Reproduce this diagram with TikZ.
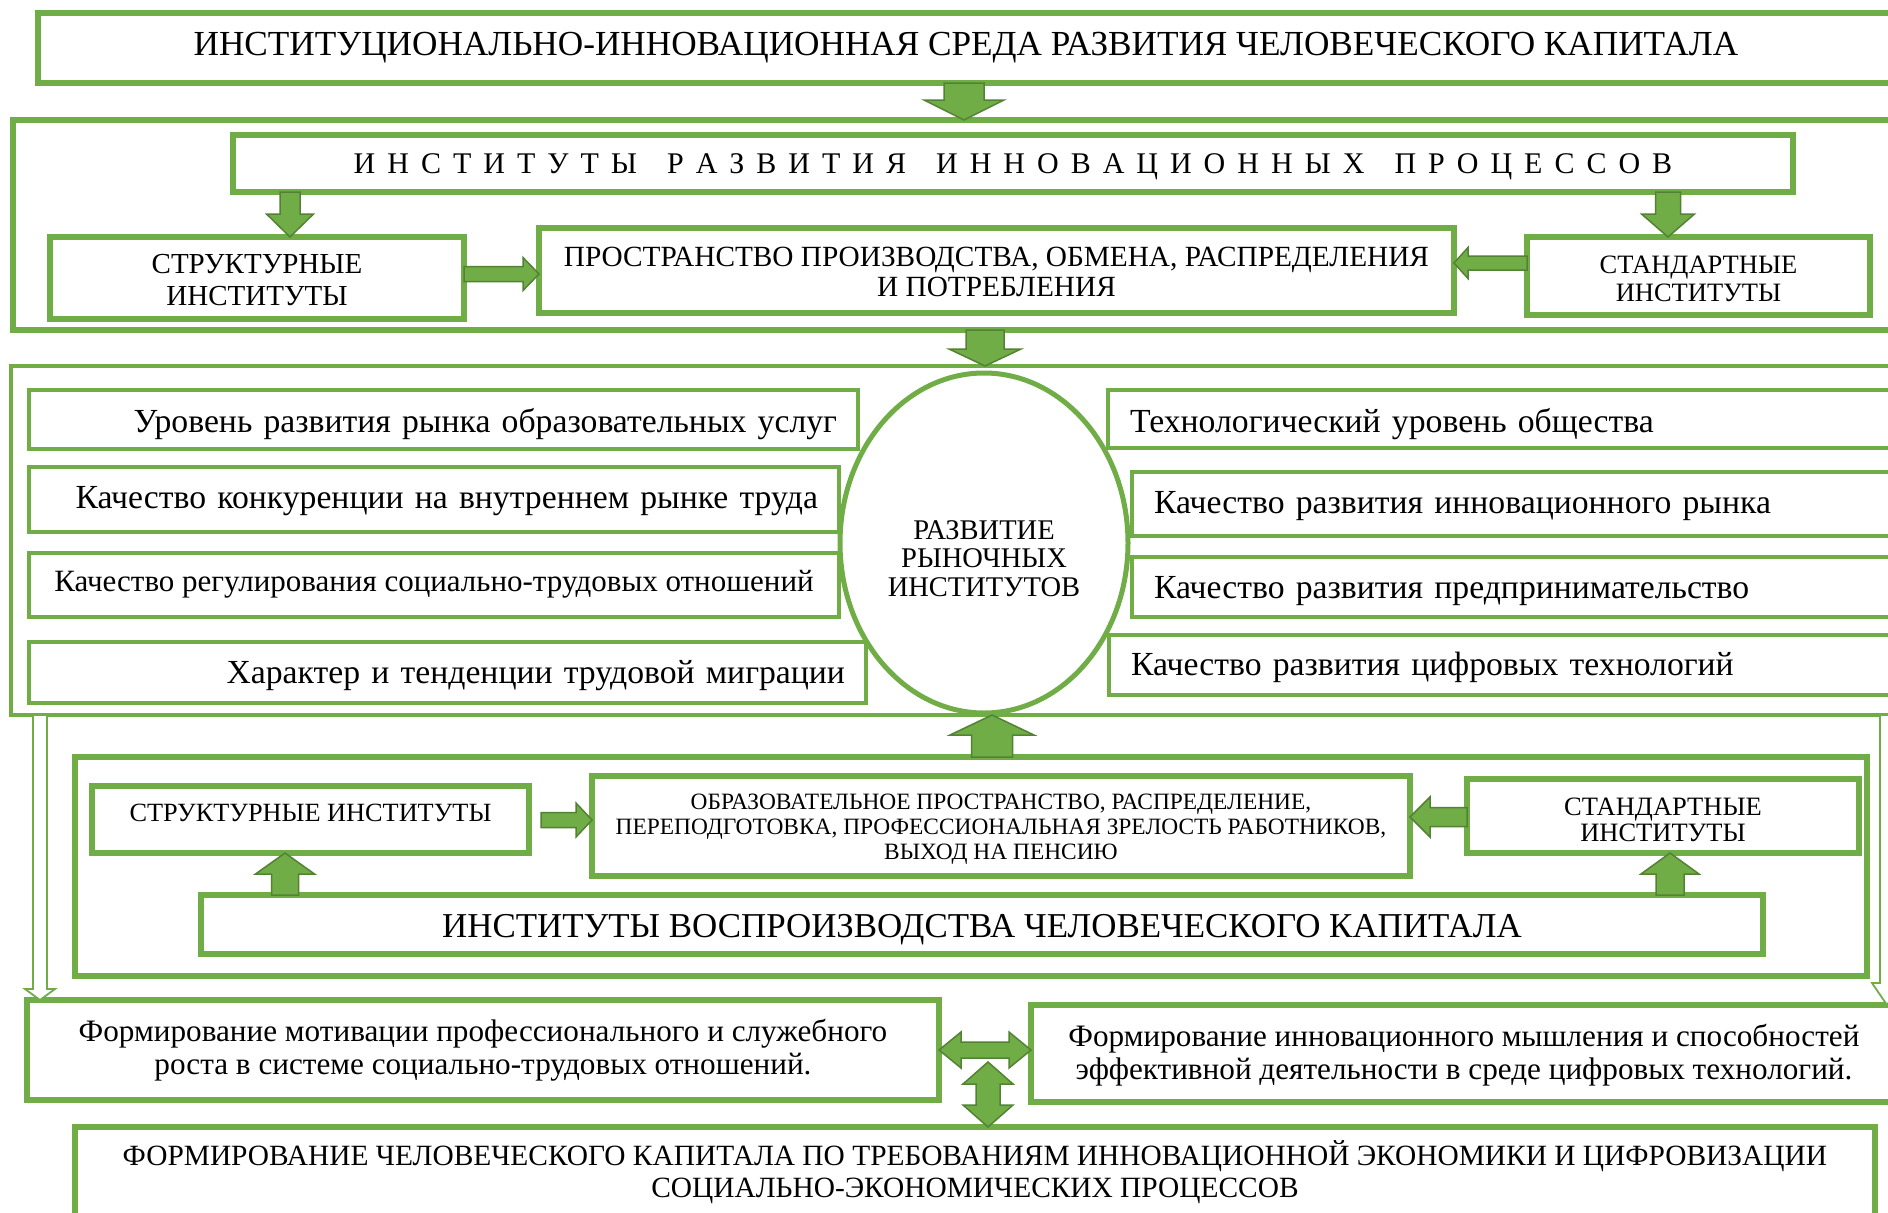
\documentclass[tikz,border=0pt]{standalone}
\usepackage{fontspec}
\setmainfont{Liberation Serif}
\usetikzlibrary{calc,shapes.geometric}
\definecolor{boxgreen}{HTML}{70AD47}
\definecolor{arrowedge}{HTML}{548235}
\newcommand\fsz[2]{\fontsize{#1pt}{#2pt}\selectfont}
% multi-line text; #1 = twice the downward shift of the text inside its node
\newcommand\mlt[2]{\raisebox{0pt}[\dimexpr\height+#1\relax][\depth]{\begin{tabular}{@{}c@{}}#2\end{tabular}}}
% block arrow: [style] {from} {to} {shaft half} {head half} {head length}
\newcommand\blockarrow[6][]{%
  \coordinate (bas) at (#2);
  \coordinate (bae) at (#3);
  \coordinate (bac) at ($(bae)!#6pt!(bas)$);
  \draw[arrowsty,#1] ($(bas)!#4pt!90:(bae)$) -- ($(bac)!#4pt!-90:(bas)$) -- ($(bac)!#5pt!-90:(bas)$) -- (bae)
     -- ($(bac)!#5pt!90:(bas)$) -- ($(bac)!#4pt!90:(bas)$) -- ($(bas)!#4pt!-90:(bae)$) -- cycle;}
% double block arrow
\newcommand\dblarrow[6][]{%
  \coordinate (das) at (#2);
  \coordinate (dae) at (#3);
  \coordinate (dac) at ($(das)!#6pt!(dae)$);
  \coordinate (dad) at ($(dae)!#6pt!(das)$);
  \draw[arrowsty,#1] (das) -- ($(dac)!#5pt!90:(dae)$) -- ($(dac)!#4pt!90:(dae)$) -- ($(dad)!#4pt!-90:(das)$)
     -- ($(dad)!#5pt!-90:(das)$) -- (dae) -- ($(dad)!#5pt!90:(das)$) -- ($(dad)!#4pt!90:(das)$)
     -- ($(dac)!#4pt!-90:(dae)$) -- ($(dac)!#5pt!-90:(dae)$) -- cycle;}
\tikzset{
  box/.style={draw=boxgreen, line width=6pt, fill=white, rectangle, inner sep=0pt, outer sep=0pt, align=center},
  frame/.style={draw=boxgreen, line width=5.5pt, rectangle, inner sep=0pt, outer sep=0pt},
  oneline/.style={text height=#1, text depth=0pt},
  lbox/.style={box, line width=4.5pt, inner xsep=21pt, align=right, anchor=west, font=\fsz{33.7}{38}},
  rbox/.style={box, line width=4.5pt, inner xsep=22pt, align=left, anchor=west, font=\fsz{33.7}{38}},
  arrowsty/.style={fill=boxgreen, draw=arrowedge, line width=1.5pt, line join=miter},
  hollow/.style={fill=white, draw=boxgreen, line width=1.8pt, line join=miter},
}
\begin{document}
\begin{tikzpicture}[x=1pt,y=-1pt]
\useasboundingbox (0,0) rectangle (1888,1213);
\clip (0,0) rectangle (1888,1213);
\fill[white] (0,0) rectangle (1888,1213);

% frames
\node[frame, minimum width=1887pt, minimum height=210pt] (O2) at (956.5,225) {};
\node[frame, line width=4pt, minimum width=1889pt, minimum height=349pt] (O3) at (955.5,540.5) {};
\node[frame, minimum width=1792pt, minimum height=219pt] (O4) at (971,866.5) {};

% top
\node[box, minimum width=1856pt, minimum height=70pt, font=\fsz{35.2}{40}] (T1) at (966,48)
  {ИНСТИТУЦИОНАЛЬНО-ИННОВАЦИОННАЯ СРЕДА РАЗВИТИЯ ЧЕЛОВЕЧЕСКОГО КАПИТАЛА};
\node[box, oneline=19.9pt, minimum width=1560pt, minimum height=57pt, font=\fsz{30}{36}] (T2) at (1013,163.5)
  {\spaceskip=12pt\relax И Н С Т И Т У Т Ы\hspace{30pt}Р А З В И Т И Я\hspace{30pt}И Н Н О В А Ц И О Н Н Ы Х\hspace{30pt}П Р О Ц Е С С О В};
\node[box, minimum width=414pt, minimum height=82pt, font=\fsz{29}{32}] (S1) at (257,278) {\mlt{10pt}{СТРУКТУРНЫЕ\\ИНСТИТУТЫ}};
\node[box, minimum width=915pt, minimum height=85pt, font=\fsz{29.3}{30}] (P1) at (996.5,270.5)
  {\mlt{10pt}{ПРОСТРАНСТВО ПРОИЗВОДСТВА, ОБМЕНА, РАСПРЕДЕЛЕНИЯ\\И ПОТРЕБЛЕНИЯ}};
\node[box, minimum width=343pt, minimum height=78pt, font=\fsz{26.5}{28}] (S2) at (1698.5,276) {\mlt{12pt}{СТАНДАРТНЫЕ\\ИНСТИТУТЫ}};

% middle
\node[lbox, oneline=26.3pt, text width=787pt, minimum height=59pt] (L1) at (29,419.5) {Уровень развития рынка образовательных услуг};
\node[lbox, oneline=18.3pt, text width=768pt, minimum height=65pt] (L2) at (29,499.5) {Качество конкуренции на внутреннем рынке труда};
\node[box, oneline=13.7pt, line width=4.5pt, minimum width=810pt, minimum height=64pt, anchor=west, font=\fsz{31}{36}] (L3) at (29,585)
  {Качество регулирования социально-трудовых отношений};
\node[lbox, oneline=21.1pt, text width=795pt, minimum height=61pt] (L4) at (29,672.5) {Характер и тенденции трудовой миграции};
\node[rbox, oneline=27.1pt, text width=753pt, minimum height=58pt] (R1) at (1108,419) {Технологический уровень общества};
\node[rbox, oneline=18.3pt, text width=729pt, minimum height=64pt] (R2) at (1132,504) {Качество развития инновационного рынка};
\node[rbox, oneline=23.5pt, text width=729pt, minimum height=60pt] (R3) at (1132,587) {Качество развития предпринимательство};
\node[rbox, oneline=21.5pt, text width=752pt, minimum height=60pt] (R4) at (1109,665) {Качество развития цифровых технологий};
\node[ellipse, draw=boxgreen, line width=5pt, fill=white, inner sep=0pt, outer sep=0pt, minimum width=288pt,
      minimum height=340pt, align=center, font=\fsz{28.5}{28.5}] (E) at (984,543) {\mlt{38pt}{РАЗВИТИЕ\\РЫНОЧНЫХ\\ИНСТИТУТОВ}};

% lower block
\node[box, oneline=3.4pt, minimum width=437pt, minimum height=67pt, font=\fsz{26.3}{28}] (S3) at (310.5,819.5) {СТРУКТУРНЫЕ ИНСТИТУТЫ};
\node[box, minimum width=818pt, minimum height=100pt, font=\fsz{23.4}{25}] (P2) at (1001,826)
  {\mlt{7pt}{ОБРАЗОВАТЕЛЬНОЕ ПРОСТРАНСТВО, РАСПРЕДЕЛЕНИЕ,\\ПЕРЕПОДГОТОВКА, ПРОФЕССИОНАЛЬНАЯ ЗРЕЛОСТЬ РАБОТНИКОВ,\\ВЫХОД НА ПЕНСИЮ}};
\node[box, minimum width=392pt, minimum height=74pt, font=\fsz{26.5}{26}] (S4) at (1663,816) {\mlt{14pt}{СТАНДАРТНЫЕ\\ИНСТИТУТЫ}};
\node[box, oneline=26.1pt, minimum width=1562pt, minimum height=59pt, font=\fsz{34.9}{38}] (B) at (982,924.5)
  {ИНСТИТУТЫ ВОСПРОИЗВОДСТВА ЧЕЛОВЕЧЕСКОГО КАПИТАЛА};

% bottom
\node[box, minimum width=912pt, minimum height=100pt, font=\fsz{31.2}{33}] (F1) at (483,1050)
  {\mlt{2pt}{Формирование мотивации профессионального и служебного\\роста в системе социально-трудовых отношений.}};
\node[box, minimum width=866pt, minimum height=97pt, font=\fsz{31.2}{33}] (F2) at (1464,1053.5)
  {\mlt{5pt}{Формирование инновационного мышления и способностей\\эффективной деятельности в среде цифровых технологий.}};
\node[box, minimum width=1800pt, minimum height=95pt, font=\fsz{29.4}{32}] (F3) at (975,1174.5)
  {\mlt{-2pt}{ФОРМИРОВАНИЕ ЧЕЛОВЕЧЕСКОГО КАПИТАЛА ПО ТРЕБОВАНИЯМ ИННОВАЦИОННОЙ ЭКОНОМИКИ И ЦИФРОВИЗАЦИИ\\СОЦИАЛЬНО-ЭКОНОМИЧЕСКИХ ПРОЦЕССОВ}};

% helper coordinates for arrow positions
\coordinate (x964) at (964,0);
\coordinate (x290) at (290,0);
\coordinate (x1668) at (1668,0);
\coordinate (y274) at (0,274);
\coordinate (y263) at (0,263);
\coordinate (x985) at (985,0);
\coordinate (x992) at (992,0);
\coordinate (y820) at (0,820);
\coordinate (y817) at (0,817);
\coordinate (x285) at (285,0);
\coordinate (x1670) at (1670,0);
\coordinate (y1050) at (0,1050);
\coordinate (x40) at (40,0);
\coordinate (x1887) at (1887,0);
\coordinate (dvs) at (988,1062);

% arrows
\blockarrow{T1.south -| x964}{O2.north -| x964}{20}{40}{20}
\blockarrow{T2.south -| x290}{S1.north -| x290}{10}{23.5}{23}
\blockarrow{T2.south -| x1668}{S2.north -| x1668}{12.5}{26.5}{23}
\blockarrow{S1.east |- y274}{P1.west |- y274}{7.5}{16.5}{16}
\blockarrow{S2.west |- y263}{P1.east |- y263}{7}{15.5}{14}
\blockarrow{O2.south -| x985}{O3.north -| x985}{19}{36}{17}
\blockarrow{O4.north -| x992}{O3.south -| x992}{20.5}{42}{20}
\blockarrow{$(S3.east |- y820)+(12,0)$}{P2.west |- y820}{7.5}{17}{16}
\blockarrow{S4.west |- y817}{P2.east |- y817}{9.5}{20}{20}
\blockarrow{B.north -| x285}{S3.south -| x285}{13.5}{29.5}{21}
\blockarrow{B.north -| x1670}{S4.south -| x1670}{14}{29}{21}
\dblarrow{F1.east |- y1050}{F2.west |- y1050}{8}{18}{22}
\dblarrow{dvs}{F3.north -| dvs}{12}{25}{22}
\blockarrow[hollow]{O3.south -| x40}{F1.north -| x40}{7}{15}{11}
\blockarrow[hollow]{O3.south -| x1887}{F2.north -| x1887}{7}{15}{22}
\end{tikzpicture}
\end{document}
